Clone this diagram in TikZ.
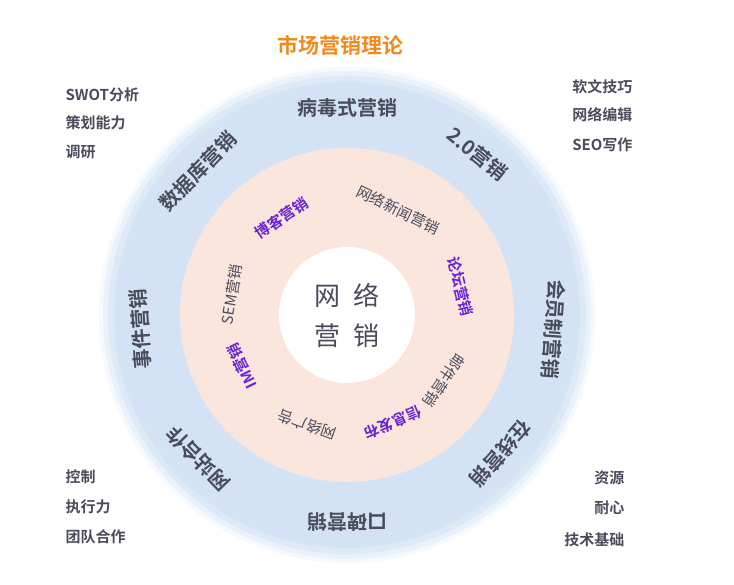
\documentclass[tikz,border=0pt]{standalone}
\usepackage{fontspec}
\usetikzlibrary{calc}
\newfontfamily\cjk{Noto Sans CJK SC}[BoldFont={* Bold}]
\definecolor{ringblue}{HTML}{D3E3F5}
\definecolor{ringpink}{HTML}{FBE6DE}
\definecolor{txt}{HTML}{4A4C5C}
\definecolor{purp}{HTML}{6A22D6}
\definecolor{orng}{HTML}{F08A1E}
\tikzset{
 outer/.style={font=\cjk\fontsize{20}{22}\selectfont\bfseries, text=txt},
 inner/.style={font=\cjk\fontsize{15}{17}\selectfont, text=txt},
 innerp/.style={font=\cjk\fontsize{15}{17}\selectfont\bfseries, text=purp},
 corner/.style={font=\cjk\fontsize{15}{17}\selectfont\bfseries, text=txt},
}
\begin{document}
\begin{tikzpicture}[x=1pt,y=1pt]
\useasboundingbox (0,0) rectangle (734,585);
\fill[white] (0,0) rectangle (734,585);
\coordinate (c) at (347,270);
\foreach \r/\o in {248/20,244/35,239/50,233/70,226/100}{\fill[ringblue,opacity=\o/100] (c) circle (\r);}
\fill[ringpink] (c) circle (167);
\fill[white] (c) circle (68);
\node[font=\cjk\fontsize{26}{40}\selectfont, text=txt, align=center] (center) at (c) {网\hspace{0.5em}络\\营\hspace{0.5em}销};
\node[font=\cjk\fontsize{21}{23}\selectfont\bfseries, text=orng] (title) at (340,540) {市场营销理论};
% outer ring
\foreach \a/\t [count=\i] in {90/病毒式营销,51/2.0营销,-4/会员制营销,-42/在线营销,-90/口碑营销,-136/网站合作,184/事件营销,136/数据库营销}
 \node[outer, rotate=\a-90] (o\i) at ($(c)+(\a:207)$) {\t};
% inner ring
\foreach \a/\t/\s [count=\i] in {64/网络新闻营销/inner,14/论坛营销/innerp,-34/邮件营销/inner,-67/信息发布/innerp,-110/网络广告/inner,-154/IM营销/innerp,170/SEM营销/inner,124/博客营销/innerp}
 \node[\s, rotate=\a-90] (n\i) at ($(c)+(\a:117)$) {\t};
% corners
\node[corner, anchor=west] (tl1) at (62,490) {SWOT分析};
\node[corner, anchor=west] (tl2) at (62,462) {策划能力};
\node[corner, anchor=west] (tl3) at (62,433) {调研};
\node[corner, anchor=east] (tr1) at (636,498) {软文技巧};
\node[corner, anchor=east] (tr2) at (636,470) {网络编辑};
\node[corner, anchor=east] (tr3) at (636,440) {SEO写作};
\node[corner, anchor=west] (bl1) at (62,108) {控制};
\node[corner, anchor=west] (bl2) at (62,78) {执行力};
\node[corner, anchor=west] (bl3) at (62,48) {团队合作};
\node[corner, anchor=east] (br1) at (628,107) {资源};
\node[corner, anchor=east] (br2) at (628,77) {耐心};
\node[corner, anchor=east] (br3) at (628,45) {技术基础};
\end{tikzpicture}
\end{document}
